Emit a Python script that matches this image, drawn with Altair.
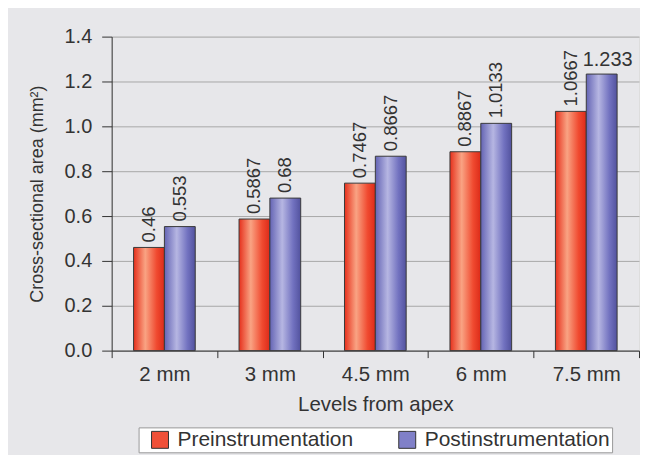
import altair as alt
import pandas as pd

levels = ["2 mm", "3 mm", "4.5 mm", "6 mm", "7.5 mm"]
series = ["Preinstrumentation", "Postinstrumentation"]
pre = [0.46, 0.5867, 0.7467, 0.8867, 1.0667]
post = [0.553, 0.68, 0.8667, 1.0133, 1.233]
pre_labels = ["0.46", "0.5867", "0.7467", "0.8867", "1.0667"]
post_labels = ["0.553", "0.68", "0.8667", "1.0133", "1.233"]
y_ticks = [0.0, 0.2, 0.4, 0.6, 0.8, 1.0, 1.2, 1.4]

rows = []
for i, lv in enumerate(levels):
    rows.append(dict(level=lv, series=series[0], value=pre[i], label=pre_labels[i]))
    rows.append(dict(level=lv, series=series[1], value=post[i], label=post_labels[i]))
df = pd.DataFrame(rows)

FONT = "Liberation Sans"
TXT = "#333333"

x_enc = alt.X(
    "level:N", sort=levels,
    scale=alt.Scale(paddingInner=0, paddingOuter=0),
    axis=alt.Axis(title="Levels from apex", labelAngle=0, tickBand="extent",
                  tickSize=7, labelPadding=7, titlePadding=10,
                  domainColor="#333333", tickColor="#333333",
                  labelFontSize=20.5, titleFontSize=20.5, labelColor=TXT, titleColor=TXT,
                  titleFontWeight="normal", grid=False),
)
y_enc = alt.Y(
    "value:Q",
    scale=alt.Scale(domain=[0, 1.4], nice=False),
    axis=alt.Axis(title="Cross-sectional area (mm²)", values=y_ticks, format=".1f",
                  tickSize=10, labelPadding=10, titlePadding=18,
                  domainColor="#333333", tickColor="#333333",
                  gridColor="#a8a8a8", grid=True,
                  labelFontSize=20, titleFontSize=18, labelColor=TXT, titleColor=TXT,
                  titleFontWeight="normal"),
)
xoff = alt.XOffset("series:N", sort=series,
                   scale=alt.Scale(domain=series, paddingOuter=0.71, paddingInner=0))

red_grad = alt.LinearGradient(
    gradient="linear", x1=0, x2=1, y1=0, y2=0,
    stops=[alt.GradientStop(color="#e6301c", offset=0),
           alt.GradientStop(color="#f9a383", offset=0.38),
           alt.GradientStop(color="#f04a30", offset=0.75),
           alt.GradientStop(color="#dc2a18", offset=1)])
blue_grad = alt.LinearGradient(
    gradient="linear", x1=0, x2=1, y1=0, y2=0,
    stops=[alt.GradientStop(color="#6464b4", offset=0),
           alt.GradientStop(color="#b6b6e2", offset=0.4),
           alt.GradientStop(color="#7272c0", offset=0.75),
           alt.GradientStop(color="#52529e", offset=1)])

base = alt.Chart(df)

bars_pre = base.transform_filter(alt.datum.series == series[0]).mark_bar(
    fill=red_grad, stroke="#3a3a3a", strokeWidth=1).encode(x=x_enc, y=y_enc, xOffset=xoff)
bars_post = base.transform_filter(alt.datum.series == series[1]).mark_bar(
    fill=blue_grad, stroke="#3a3a3a", strokeWidth=1).encode(x=x_enc, y=y_enc, xOffset=xoff)

labels_rot = base.transform_filter(alt.datum.value < 1.2).mark_text(
    angle=270, align="left", baseline="middle", dx=5, fontSize=18.5, font=FONT, color=TXT
).encode(x=x_enc, y=y_enc, xOffset=xoff, text="label:N")
labels_flat = base.transform_filter(alt.datum.value >= 1.2).mark_text(
    align="center", baseline="bottom", dx=6, dy=-4, fontSize=20, font=FONT, color=TXT
).encode(x=x_enc, y=y_enc, xOffset=xoff, text="label:N")

legend_layer = base.mark_square(opacity=0).encode(
    x=x_enc, y=y_enc,
    color=alt.Color("series:N", sort=series,
                    scale=alt.Scale(domain=series, range=["#f05038", "#8080c8"]),
                    legend=alt.Legend(title=None, orient="none", direction="horizontal",
                                      legendX=27, legendY=392,
                                      symbolType="square", symbolSize=289, symbolOpacity=1,
                                      symbolStrokeColor="#333333", symbolStrokeWidth=1,
                                      symbolOffset=9,
                                      labelFontSize=21, labelColor=TXT, labelFont=FONT,
                                      labelLimit=0,
                                      strokeColor="#999999", fillColor="white",
                                      padding=2, columnPadding=34, labelOffset=7)),
)

chart = alt.layer(bars_pre, bars_post, labels_rot, labels_flat, legend_layer).properties(
    width=529, height=315,
    padding={"left": 20, "top": 18, "right": 0, "bottom": 1},
    background="#e7e7ea",
).configure_view(stroke="#444444", strokeWidth=1, fill="white").configure(
    font=FONT
)

chart.save("out.html", embed_options={"renderer": "svg", "actions": False})
